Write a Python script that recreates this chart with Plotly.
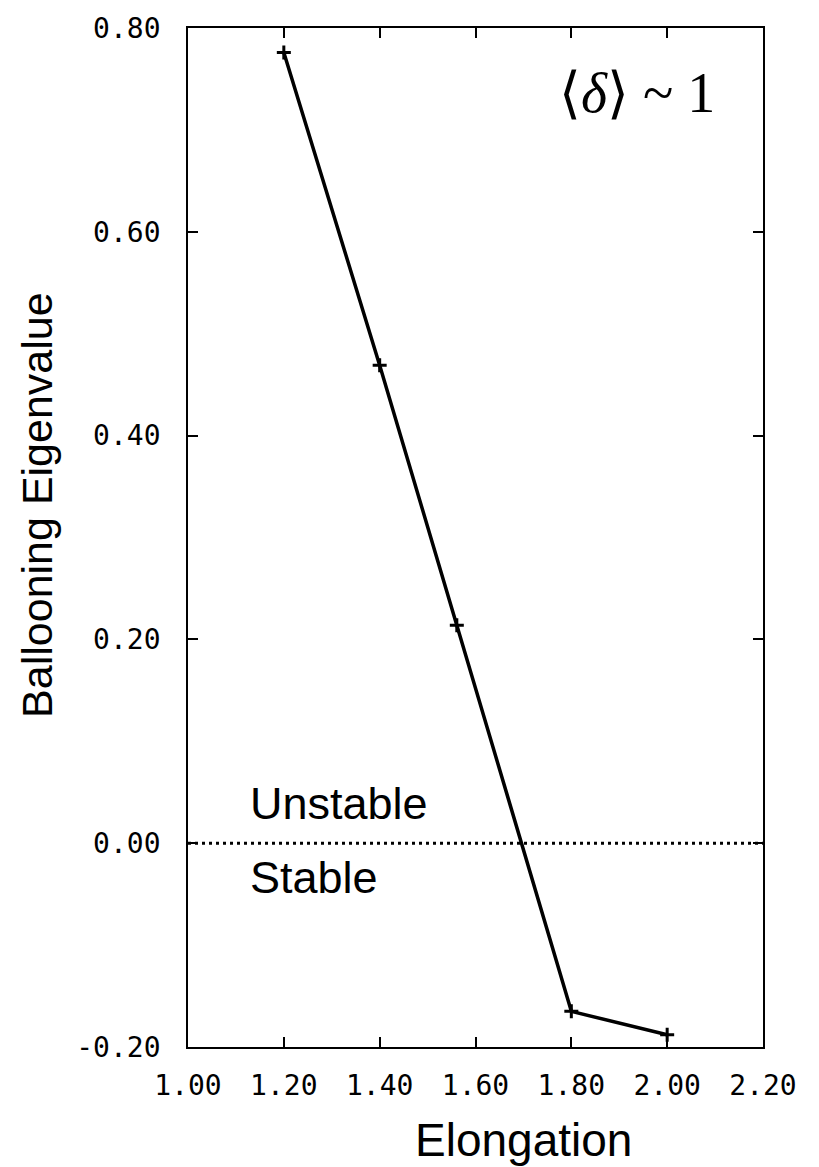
import plotly.graph_objects as go

elongation = [1.20, 1.40, 1.561, 1.80, 2.00]
eigenvalue = [0.776, 0.469, 0.214, -0.165, -0.188]

x_ticks = [1.00, 1.20, 1.40, 1.60, 1.80, 2.00, 2.20]
x_tick_labels = ["1.00", "1.20", "1.40", "1.60", "1.80", "2.00", "2.20"]
y_ticks = [-0.20, 0.00, 0.20, 0.40, 0.60, 0.80]
y_tick_labels = ["-0.20", "0.00", "0.20", "0.40", "0.60", "0.80"]

fig = go.Figure()
fig.add_trace(go.Scatter(
    x=elongation, y=eigenvalue, mode="lines+markers",
    line=dict(color="black", width=3.5),
    marker=dict(symbol="cross-thin", size=10, line=dict(color="black", width=3)),
    showlegend=False,
))

fig.add_shape(type="line", xref="paper", x0=0, x1=1, yref="y", y0=0, y1=0,
              line=dict(color="black", width=3, dash="3px,4px"))

tickfont = dict(family="DejaVu Sans Mono", size=28, color="black")
axis_common = dict(showline=True, linecolor="black", linewidth=1.8, mirror="ticks",
                   ticks="inside", ticklen=10, tickwidth=1.5, tickcolor="black",
                   showgrid=False, zeroline=False, tickfont=tickfont)

fig.update_xaxes(range=[1.0, 2.2], tickvals=x_ticks, ticktext=x_tick_labels,
                 ticklabelstandoff=12, **axis_common)
fig.update_yaxes(range=[-0.2, 0.8], tickvals=y_ticks, ticktext=y_tick_labels,
                 ticklabelstandoff=20, **axis_common)

sans = "Liberation Sans, Arial, Helvetica"
fig.add_annotation(text="Ballooning Eigenvalue", xref="paper", yref="paper",
                   x=-0.2626, y=0.532, textangle=-90, showarrow=False,
                   xanchor="center", yanchor="middle",
                   font=dict(family=sans, size=43, color="black"))
fig.add_annotation(text="Elongation", xref="paper", yref="paper",
                   x=(523 - 188) / 575, y=(1047 - 1141) / 1028, showarrow=False,
                   xanchor="center", yanchor="middle",
                   font=dict(family=sans, size=46, color="black"))
fig.add_annotation(text="Unstable", x=1.125, y=0.039, showarrow=False,
                   xanchor="left", yanchor="middle",
                   font=dict(family=sans, size=45, color="black"))
fig.add_annotation(text="Stable", x=1.125, y=-0.034, showarrow=False,
                   xanchor="left", yanchor="middle",
                   font=dict(family=sans, size=45, color="black"))
fig.add_annotation(text="⟨<i>δ</i>⟩ ~ 1", x=1.937, y=0.736, showarrow=False,
                   xanchor="center", yanchor="middle",
                   font=dict(family="Liberation Serif, Times New Roman, serif", size=56, color="black"))

fig.update_layout(
    width=819, height=1167,
    margin=dict(l=188, r=56, t=19, b=120),
    paper_bgcolor="white", plot_bgcolor="white",
)

fig.write_html("out.html")
